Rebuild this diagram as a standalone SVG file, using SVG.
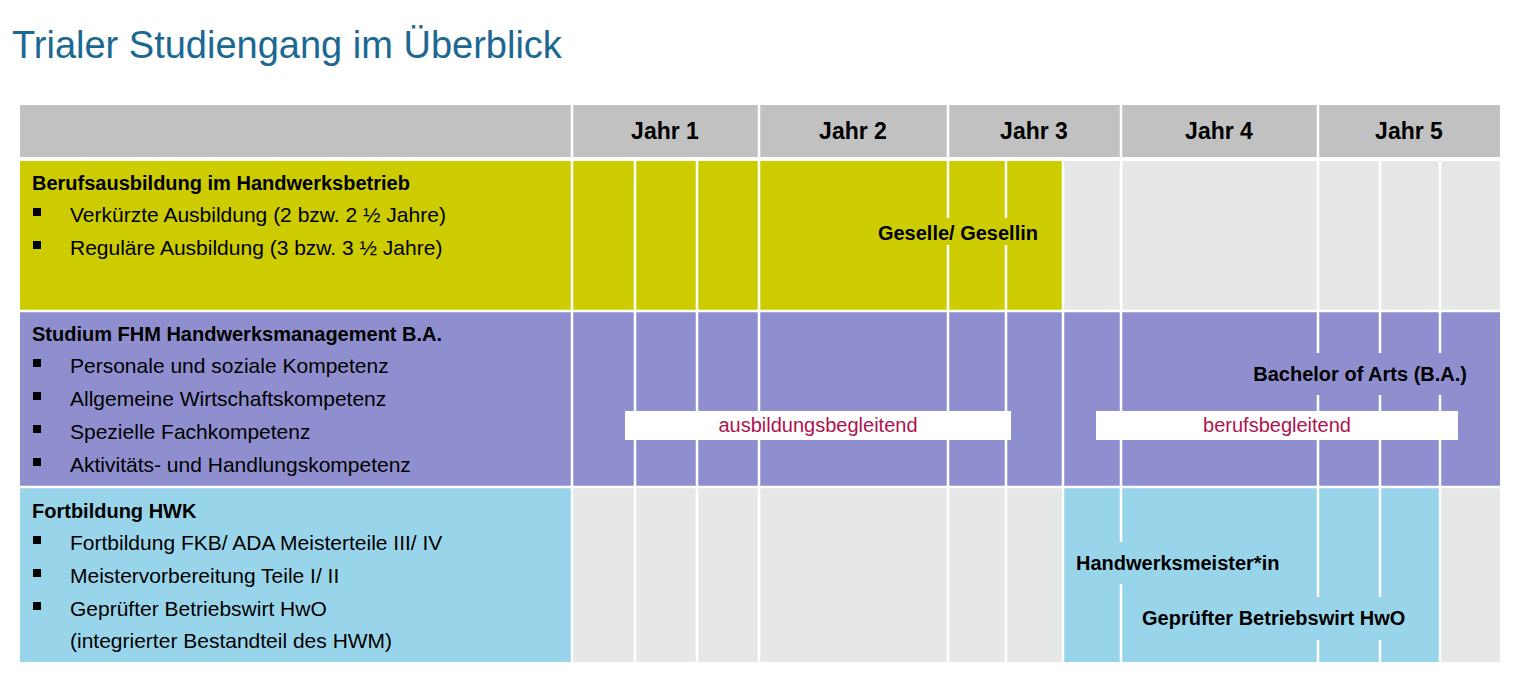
<svg xmlns="http://www.w3.org/2000/svg" width="1520" height="681" viewBox="0 0 1520 681">
<style>
text{font-family:"Liberation Sans",Arial,sans-serif;fill:#000}
.h{font-size:23px;font-weight:bold;text-anchor:middle}
.b{font-size:20px;font-weight:bold}
.t{font-size:21px}
.r{font-size:20px;fill:#b0124f;text-anchor:middle}
.g{stroke:#fff;stroke-width:2.5}
</style>
<rect width="1520" height="681" fill="#fff"/>
<text x="12" y="58" style="font-size:38px;fill:#1b6892">Trialer Studiengang im Überblick</text>
<g id="header">
<rect x="20" y="105" width="1480" height="52" fill="#c1c1c1"/>
<text class="h" x="665" y="139">Jahr 1</text>
<text class="h" x="853" y="139">Jahr 2</text>
<text class="h" x="1034" y="139">Jahr 3</text>
<text class="h" x="1219" y="139">Jahr 4</text>
<text class="h" x="1409" y="139">Jahr 5</text>
</g>
<g id="row1">
<rect x="20" y="161" width="1043" height="149" fill="#cccc00"/>
<rect x="1063" y="161" width="437" height="149" fill="#e6e7e7"/>
</g>
<g id="row2">
<rect x="20" y="312" width="1480" height="174" fill="#8f8fcf"/>
</g>
<g id="row3">
<rect x="20" y="488" width="552" height="174" fill="#99d5ea"/>
<rect x="572" y="488" width="491" height="174" fill="#e6e7e7"/>
<rect x="1063" y="488" width="377" height="174" fill="#99d5ea"/>
<rect x="1440" y="488" width="60" height="174" fill="#e6e7e7"/>
</g>
<g id="connectors" class="g">
<line x1="572" y1="105" x2="572" y2="662"/>
<line x1="759" y1="105" x2="759" y2="662"/>
<line x1="948" y1="105" x2="948" y2="218"/><line x1="948" y1="245" x2="948" y2="662"/>
<line x1="1121" y1="105" x2="1121" y2="542"/><line x1="1121" y1="584" x2="1121" y2="662"/>
<line x1="1318" y1="105" x2="1318" y2="353"/><line x1="1318" y1="395" x2="1318" y2="597"/><line x1="1318" y1="640" x2="1318" y2="662"/>
<line x1="635" y1="161" x2="635" y2="662"/>
<line x1="697" y1="161" x2="697" y2="662"/>
<line x1="1006" y1="161" x2="1006" y2="218"/><line x1="1006" y1="245" x2="1006" y2="662"/>
<line x1="1063" y1="161" x2="1063" y2="662"/>
<line x1="1380" y1="161" x2="1380" y2="353"/><line x1="1380" y1="395" x2="1380" y2="597"/><line x1="1380" y1="640" x2="1380" y2="662"/>
<line x1="1440" y1="161" x2="1440" y2="353"/><line x1="1440" y1="395" x2="1440" y2="662"/>
<line x1="20" y1="159" x2="1500" y2="159"/>
<line x1="20" y1="311" x2="1500" y2="311"/>
<line x1="20" y1="487" x2="1500" y2="487"/>
</g>
<g id="labels1">
<text class="b" x="32" y="190">Berufsausbildung im Handwerksbetrieb</text>
<g class="t"><rect x="33" y="208" width="8" height="8"/><text x="70" y="222">Verkürzte Ausbildung (2 bzw. 2 ½ Jahre)</text>
<rect x="33" y="241" width="8" height="8"/><text x="70" y="255">Reguläre Ausbildung (3 bzw. 3 ½ Jahre)</text></g>
<text class="b" x="1038" y="240" text-anchor="end">Geselle/ Gesellin</text>
</g>
<g id="labels2">
<text class="b" x="32" y="341">Studium FHM Handwerksmanagement B.A.</text>
<g class="t"><rect x="33" y="359" width="8" height="8"/><text x="70" y="373">Personale und soziale Kompetenz</text>
<rect x="33" y="392" width="8" height="8"/><text x="70" y="406">Allgemeine Wirtschaftskompetenz</text>
<rect x="33" y="425" width="8" height="8"/><text x="70" y="439">Spezielle Fachkompetenz</text>
<rect x="33" y="458" width="8" height="8"/><text x="70" y="472">Aktivitäts- und Handlungskompetenz</text></g>
<text class="b" x="1467" y="381" text-anchor="end">Bachelor of Arts (B.A.)</text>
</g>
<g id="box1"><rect x="625" y="411" width="386" height="29" fill="#fff"/><text class="r" x="818" y="432">ausbildungsbegleitend</text></g>
<g id="box2"><rect x="1096" y="411" width="362" height="29" fill="#fff"/><text class="r" x="1277" y="432">berufsbegleitend</text></g>
<g id="labels3">
<text class="b" x="32" y="518">Fortbildung HWK</text>
<g class="t"><rect x="33" y="536" width="8" height="8"/><text x="70" y="550">Fortbildung FKB/ ADA Meisterteile III/ IV</text>
<rect x="33" y="569" width="8" height="8"/><text x="70" y="583">Meistervorbereitung Teile I/ II</text>
<rect x="33" y="602" width="8" height="8"/><text x="70" y="616">Geprüfter Betriebswirt HwO</text>
<text x="70" y="648">(integrierter Bestandteil des HWM)</text></g>
<text class="b" x="1076" y="570">Handwerksmeister*in</text>
<text class="b" x="1142" y="625">Geprüfter Betriebswirt HwO</text>
</g>
</svg>
